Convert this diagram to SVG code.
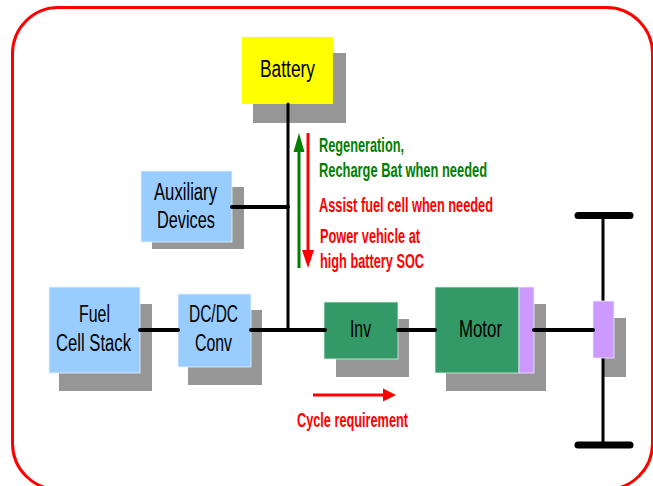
<svg xmlns="http://www.w3.org/2000/svg" width="653" height="486" viewBox="0 0 653 486">
<style>
.shadow{fill:#969696}
.blue{fill:#99CCFF;stroke:#E6F2FF;stroke-width:0.8}
.green{fill:#339966;stroke:#D9EFE3;stroke-width:0.8}
.purple{fill:#CC99FF;stroke:#F2E6FF;stroke-width:0.8}
.yellow{fill:#FFFF00}
.lbl{font-family:"Liberation Sans Narrow","Liberation Sans",Arial,sans-serif;font-size:23px;fill:#000;text-anchor:start}
.ann{font-family:"Liberation Sans Narrow","Liberation Sans",Arial,sans-serif;font-size:19.5px;font-weight:bold}
.conn{stroke:#000;fill:none;stroke-linecap:round}
</style>
<rect x="0" y="0" width="653" height="486" fill="#fff"/>
<rect id="frame" x="12.5" y="7.5" width="640" height="482" rx="46" ry="46" fill="none" stroke="#FF0000" stroke-width="3"/>

<g id="battery">
<rect class="shadow" x="253" y="53" width="93" height="70"/>
<rect class="yellow" x="242" y="37" width="91" height="67"/>
<text class="lbl" x="260" y="77" textLength="55" lengthAdjust="spacingAndGlyphs">Battery</text>
</g>

<g id="auxiliary">
<rect class="shadow" x="152" y="187" width="92" height="62"/>
<rect class="blue" x="141" y="171" width="91" height="71"/>
<text class="lbl" x="154" y="200" textLength="63" lengthAdjust="spacingAndGlyphs">Auxiliary</text>
<text class="lbl" x="157" y="228" textLength="58" lengthAdjust="spacingAndGlyphs">Devices</text>
</g>

<g id="fuelcell">
<rect class="shadow" x="59" y="304" width="93" height="87"/>
<rect class="blue" x="49" y="287" width="91" height="86"/>
<text class="lbl" x="79" y="322" textLength="31" lengthAdjust="spacingAndGlyphs">Fuel</text>
<text class="lbl" x="56" y="351" textLength="75" lengthAdjust="spacingAndGlyphs">Cell Stack</text>
</g>

<g id="dcdc">
<rect class="shadow" x="188" y="310" width="74" height="75"/>
<rect class="blue" x="178" y="294" width="73" height="73"/>
<text class="lbl" x="189" y="322" textLength="49" lengthAdjust="spacingAndGlyphs">DC/DC</text>
<text class="lbl" x="195" y="351" textLength="37" lengthAdjust="spacingAndGlyphs">Conv</text>
</g>

<g id="inv">
<rect class="shadow" x="336" y="319" width="73" height="58"/>
<rect class="green" x="324" y="302" width="74" height="57"/>
<text class="lbl" x="350" y="337" textLength="21" lengthAdjust="spacingAndGlyphs">Inv</text>
</g>

<g id="motor">
<rect class="shadow" x="446" y="304" width="100" height="87"/>
<rect class="green" x="435" y="287" width="84" height="86"/>
<rect class="purple" x="519" y="287" width="15" height="86"/>
<text class="lbl" x="459" y="337" textLength="43" lengthAdjust="spacingAndGlyphs">Motor</text>
</g>

<g id="axle">
<rect class="shadow" x="603" y="318" width="23" height="59"/>
<line class="conn" x1="603" y1="215" x2="603" y2="445" stroke-width="3"/>
<line class="conn" x1="578" y1="215.5" x2="630" y2="215.5" stroke-width="7"/>
<line class="conn" x1="578" y1="445" x2="630" y2="445" stroke-width="7"/>
<rect class="purple" x="593" y="301" width="21" height="57"/>
</g>

<g id="connectors">
<line class="conn" x1="288" y1="104" x2="288" y2="330" stroke-width="3" stroke-linecap="butt"/>
<line class="conn" x1="232" y1="207" x2="288" y2="207" stroke-width="4"/>
<line class="conn" x1="140" y1="330" x2="178" y2="330" stroke-width="4"/>
<line class="conn" x1="251" y1="330" x2="325" y2="330" stroke-width="4"/>
<line class="conn" x1="398" y1="330" x2="435" y2="330" stroke-width="4"/>
<line class="conn" x1="534" y1="330" x2="593" y2="330" stroke-width="4"/>
</g>

<g id="power-flow">
<line x1="299" y1="268" x2="299" y2="148" stroke="#008000" stroke-width="3"/>
<polygon points="299,133 293.5,152 304.5,152" fill="#008000"/>
<line x1="308" y1="133" x2="308" y2="253" stroke="#FF0000" stroke-width="3"/>
<polygon points="308,268 302,250 314,250" fill="#FF0000"/>
<text class="ann" x="319" y="152" fill="#008000" textLength="85" lengthAdjust="spacingAndGlyphs">Regeneration,</text>
<text class="ann" x="319" y="177" fill="#008000" textLength="168" lengthAdjust="spacingAndGlyphs">Recharge Bat when needed</text>
<text class="ann" x="319" y="212" fill="#FF0000" textLength="174" lengthAdjust="spacingAndGlyphs">Assist fuel cell when needed</text>
<text class="ann" x="320" y="243" fill="#FF0000" textLength="100" lengthAdjust="spacingAndGlyphs">Power vehicle at</text>
<text class="ann" x="320" y="268" fill="#FF0000" textLength="104" lengthAdjust="spacingAndGlyphs">high battery SOC</text>
</g>

<g id="cycle">
<line x1="313" y1="395" x2="386" y2="395" stroke="#FF0000" stroke-width="3"/>
<polygon points="396,395 383,388.5 383,401.5" fill="#FF0000"/>
<text class="ann" x="297" y="427" fill="#FF0000" font-size="18.5" textLength="111" lengthAdjust="spacingAndGlyphs">Cycle requirement</text>
</g>
</svg>
